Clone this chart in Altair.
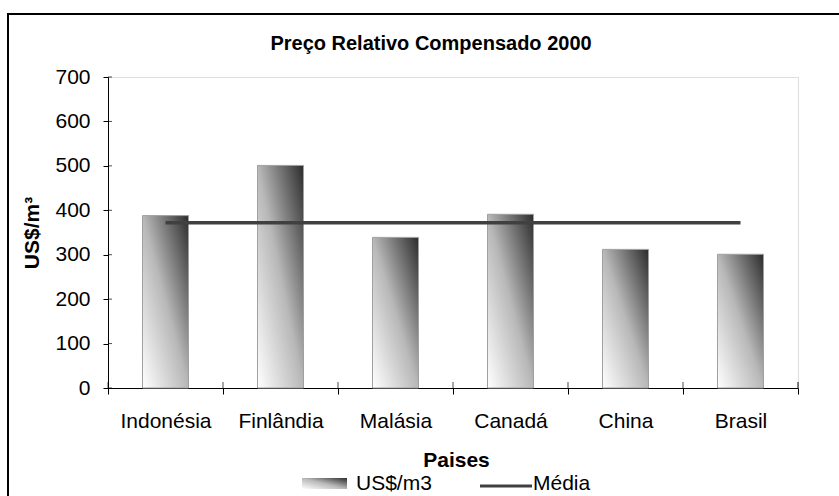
import altair as alt
import pandas as pd

# ---- data ----
paises = ["Indonésia", "Finlândia", "Malásia", "Canadá", "China", "Brasil"]
precos = [388, 501, 339, 391, 312, 301]
media = [372, 372, 372, 372, 372, 372]
y_ticks = [0, 100, 200, 300, 400, 500, 600, 700]
legend_labels = ["US$/m3", "Média"]
titulo = ["Preço Relativo Compensado 2000"]

df = pd.DataFrame({"pais": paises, "preco": precos, "media": media})
ticks_df = pd.DataFrame({"v": y_ticks})

FONT = "Liberation Sans"
W, H = 690, 311

grad = alt.Gradient(
    gradient="linear",
    stops=[
        alt.GradientStop(color="#ffffff", offset=0),
        alt.GradientStop(color="#b8b8b8", offset=0.5),
        alt.GradientStop(color="#2c2c2c", offset=1),
    ],
    x1=0, y1=1, x2=1, y2=0,
)

x_enc = alt.X(
    "pais:N", sort=paises,
    scale=alt.Scale(paddingInner=0, paddingOuter=0),
    axis=alt.Axis(
        title="Paises", titleX=348, titleY=78, titleBaseline="alphabetic",
        titleFont=FONT, titleFontSize=21, titleFontWeight="bold", titleColor="#000000",
        labelAngle=0, labelFont=FONT, labelFontSize=21, labelColor="#000000",
        labelBaseline="alphabetic", labelPadding=33,
        tickBand="extent", tickSize=6, tickColor="#000000",
        domainColor="#000000", grid=False,
    ),
)

y_scale = alt.Scale(domain=[0, 700], nice=False)

bars = alt.Chart(df).mark_bar(
    fill=grad, stroke="#a0a0a0", strokeWidth=1, width=alt.RelativeBandSize(0.4)
).encode(
    x=x_enc,
    y=alt.Y(
        "preco:Q", scale=y_scale,
        axis=alt.Axis(
            values=y_ticks, title="US$/m³", titleX=-70, titleY=H / 2,
            titleAngle=270, titleAlign="center", titleBaseline="alphabetic",
            titleFont=FONT, titleFontSize=21, titleFontWeight="bold", titleColor="#000000",
            labelFont=FONT, labelFontSize=21, labelColor="#000000",
            labelPadding=13, tickSize=5, tickColor="#000000",
            domainColor="#000000", grid=False,
        ),
    ),
)

line = alt.Chart(df).mark_line(color="#404040", strokeWidth=3.5).encode(
    x=alt.X("pais:N", sort=paises),
    y=alt.Y("media:Q", scale=y_scale),
)

# inward halves of the crossing axis ticks
y_in_ticks = alt.Chart(ticks_df).mark_tick(
    orient="horizontal", color="#000000", thickness=1, size=4
).encode(y=alt.Y("v:Q", scale=y_scale), x=alt.value(2))
x_in_ticks = alt.Chart(df).mark_tick(
    orient="vertical", color="#000000", thickness=1, size=6
).encode(x=alt.X("pais:N", sort=paises, bandPosition=0), y=alt.value(H - 3))
x_end_tick = alt.Chart(pd.DataFrame({"a": [0]})).mark_rule(color="#000000").encode(
    x=alt.value(W), y=alt.value(H - 6), y2=alt.value(H)
)

# outer chart frame (left and top edges visible)
frame_left = alt.Chart(pd.DataFrame({"a": [0]})).mark_rule(color="#000000", strokeWidth=2).encode(
    x=alt.value(-100), y=alt.value(-63), y2=alt.value(430)
)
frame_top = alt.Chart(pd.DataFrame({"a": [0]})).mark_rule(color="#000000", strokeWidth=2).encode(
    x=alt.value(-101), x2=alt.value(740), y=alt.value(-63)
)

# title
title_mark = alt.Chart(pd.DataFrame({"t": titulo})).mark_text(
    font=FONT, fontSize=20, fontWeight="bold", align="center", baseline="alphabetic",
    color="#000000",
).encode(text="t:N", x=alt.value(323), y=alt.value(-27))

# legend
leg_df1 = pd.DataFrame({"t": [legend_labels[0]]})
leg_df2 = pd.DataFrame({"t": [legend_labels[1]]})
swatch = alt.Chart(leg_df1).mark_rect(fill=grad).encode(
    x=alt.value(194), x2=alt.value(239), y=alt.value(401), y2=alt.value(412)
)
swatch_text = alt.Chart(leg_df1).mark_text(
    font=FONT, fontSize=21, align="left", baseline="alphabetic", color="#000000"
).encode(text="t:N", x=alt.value(248), y=alt.value(413))
leg_line = alt.Chart(leg_df2).mark_rule(color="#404040", strokeWidth=3).encode(
    x=alt.value(372), x2=alt.value(424), y=alt.value(409)
)
leg_line_text = alt.Chart(leg_df2).mark_text(
    font=FONT, fontSize=21, align="left", baseline="alphabetic", color="#000000"
).encode(text="t:N", x=alt.value(425), y=alt.value(413))

chart = alt.layer(
    bars, line, y_in_ticks, x_in_ticks, x_end_tick, frame_left, frame_top, title_mark,
    swatch, swatch_text, leg_line, leg_line_text
).properties(
    width=W, height=H,
    padding={"left": 108, "top": 77, "right": 41, "bottom": 108},
    autosize=alt.AutoSizeParams(type="none"),
).configure_view(
    stroke="#a0a0a0", strokeWidth=1
).configure(background="white")

chart.save("out.html", embed_options={"renderer": "svg", "actions": False})
